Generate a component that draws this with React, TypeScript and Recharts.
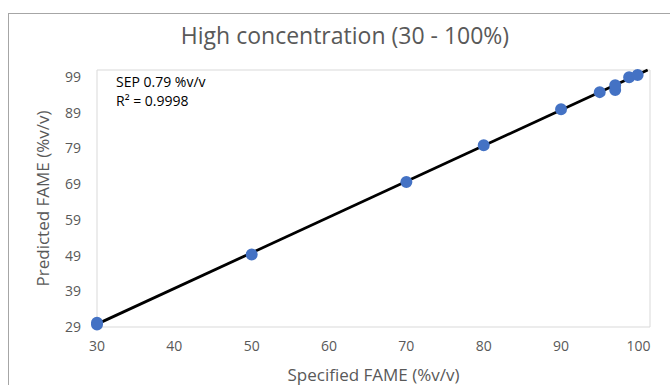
import React from 'react';
import { ComposedChart, Scatter, Line, XAxis, YAxis, ZAxis, ReferenceArea, Label } from 'recharts';

const chartTitle = 'High concentration (30 - 100%)';
const xAxisTitle = 'Specified FAME (%v/v)';
const yAxisTitle = 'Predicted FAME (%v/v)';
const annotationLines = ['SEP 0.79 %v/v', 'R\u00B2 = 0.9998'];

const specified = [30, 30, 50, 70, 80, 90, 95, 97, 97, 98.8, 99.9];
const predicted = [29.7, 30.2, 49.3, 69.6, 79.9, 90.0, 94.8, 95.4, 96.7, 99.0, 99.6];

const trendX = [30, 101.2];
const trendY = [29.8, 101];

const xTicks = [30, 40, 50, 60, 70, 80, 90, 100];
const yTicks = [29, 39, 49, 59, 69, 79, 89, 99];
const xDomain: [number, number] = [30, 101.5];
const yDomain: [number, number] = [29, 101];

const FONT = '"Open Sans", "Noto Sans", sans-serif';
const GREY = '#595959';

export default function App() {
  const points = specified.map((x, i) => ({ x, y: predicted[i] }));
  const trend = trendX.map((x, i) => ({ x, y: trendY[i] }));
  return (
    <div style={{ position: 'absolute', left: 0, top: 0, width: 670, height: 385, background: '#fff', overflow: 'hidden', fontFamily: FONT }}>
      <div style={{ position: 'absolute', left: 8, top: 13, width: 700, height: 400, borderLeft: '1px solid #a6a6a6', borderTop: '1px solid #a6a6a6' }} />
      <div style={{ position: 'absolute', left: 0, width: 690, top: 19, textAlign: 'center', fontSize: 23, color: GREY, lineHeight: '32px' }}>
        {chartTitle}
      </div>
      <div style={{ position: 'absolute', left: 0, top: 0 }}>
        <ComposedChart width={670} height={385} margin={{ top: 70, right: 20, bottom: 0, left: 0 }} style={{ fontFamily: FONT }}>
          <XAxis
            type="number"
            dataKey="x"
            domain={xDomain}
            ticks={xTicks}
            height={58}
            tickSize={0}
            tickMargin={14}
            axisLine={false}
            tick={{ fill: GREY, fontSize: 14 }}
          >
            <Label value={xAxisTitle} position="insideBottom" offset={4} style={{ fill: GREY, fontSize: 17 }} />
          </XAxis>
          <YAxis
            type="number"
            dataKey="y"
            domain={yDomain}
            ticks={yTicks}
            width={97}
            tickSize={0}
            tickMargin={16}
            axisLine={false}
            tick={{ fill: GREY, fontSize: 14 }}
          >
            <Label value={yAxisTitle} angle={-90} position="center" dx={-6} style={{ fill: GREY, fontSize: 17, textAnchor: 'middle' }} />
          </YAxis>
          <ZAxis range={[113, 113]} />
          <ReferenceArea x1={xDomain[0]} x2={xDomain[1]} y1={yDomain[0]} y2={yDomain[1]} fill="none" stroke="#d9d9d9" strokeWidth={1} />
          <Scatter data={points} fill="#4472C4" isAnimationActive={false} />
          <Line data={trend} type="linear" dataKey="y" stroke="#000" strokeWidth={2.8} dot={false} activeDot={false} isAnimationActive={false} />
        </ComposedChart>
      </div>
      <div style={{ position: 'absolute', left: 116, top: 72, fontSize: 14, lineHeight: '19px', color: '#000' }}>
        {annotationLines.map((t) => (
          <div key={t}>{t}</div>
        ))}
      </div>
    </div>
  );
}
